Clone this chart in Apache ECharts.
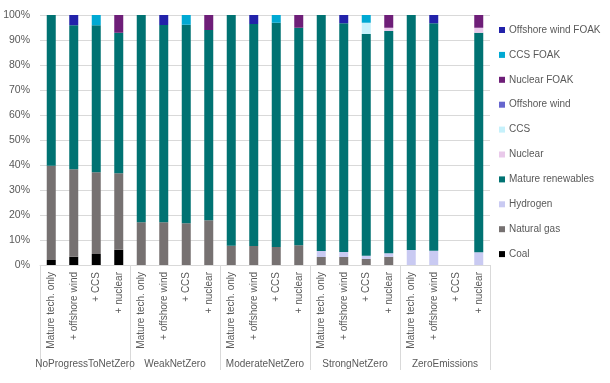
<!DOCTYPE html>
<html>
<head>
<meta charset="utf-8">
<script src="https://cdn.jsdelivr.net/npm/echarts@6/dist/echarts.min.js"></script>
<style>html,body{margin:0;padding:0;background:#fff}#c{width:610px;height:383px}</style>
</head>
<body>
<div id="c"></div>
<script>
const groups = ['NoProgressToNetZero','WeakNetZero','ModerateNetZero','StrongNetZero','ZeroEmissions'];
const variants = ['Mature tech. only','+ offshore wind','+ CCS','+ nuclear'];
const categories = [];
groups.forEach(() => variants.forEach(v => categories.push(v)));
const yTicks = [0,10,20,30,40,50,60,70,80,90,100];

const coal          = [2.0,3.3,4.4,6.1, 0,0,0,0, 0,0,0,0, 0,0,0,0, 0,0,0,0];
const naturalGas    = [37.7,35.0,32.7,30.6, 17.1,17.1,16.7,17.9, 7.7,7.6,7.2,7.9, 3.2,3.2,2.4,3.3, 0,0,0,0];
const hydrogen      = [0,0,0,0, 0,0,0,0, 0,0,0,0, 2.4,2.0,1.3,1.4, 6.0,5.7,0,5.1];
const matureRenew   = [60.3,57.6,58.8,56.2, 82.9,78.9,79.4,76.1, 92.3,88.8,89.7,87.0, 94.4,91.5,88.7,88.9, 94.0,91.0,0,87.8];
const nuclear       = [0,0,0,0, 0,0,0,0, 0,0,0,0, 0,0,0,1.3, 0,0,0,2.0];
const ccs           = [0,0,0,0, 0,0,0,0, 0,0,0,0, 0,0,4.5,0, 0,0,0,0];
const offshoreWind  = [0,0,0,0, 0,0,0,0, 0,0,0,0, 0,0,0,0, 0,0,0,0];
const nuclearFOAK   = [0,0,0,7.1, 0,0,0,6.0, 0,0,0,5.1, 0,0,0,5.1, 0,0,0,5.1];
const ccsFOAK       = [0,0,4.1,0, 0,0,3.9,0, 0,0,3.1,0, 0,0,3.1,0, 0,0,0,0];
const offshoreFOAK  = [0,4.1,0,0, 0,4.0,0,0, 0,3.6,0,0, 0,3.3,0,0, 0,3.3,0,0];

const seriesDefs = [
  ['Coal', coal, '#000000'],
  ['Natural gas', naturalGas, '#767171'],
  ['Hydrogen', hydrogen, '#C9CAF2'],
  ['Mature renewables', matureRenew, '#007272'],
  ['Nuclear', nuclear, '#E9C9EA'],
  ['CCS', ccs, '#C6F1FB'],
  ['Offshore wind', offshoreWind, '#6666CE'],
  ['Nuclear FOAK', nuclearFOAK, '#6E1E78'],
  ['CCS FOAK', ccsFOAK, '#00A9D3'],
  ['Offshore wind FOAK', offshoreFOAK, '#2222AA']
];

const txt = '#595959';
const font = 'Liberation Sans';
const chart = echarts.init(document.getElementById('c'), null, {renderer:'canvas'});
chart.setOption({
  animation: false,
  textStyle: {fontFamily: font},
  grid: {left: 40, right: 120, top: 15, bottom: 118, containLabel: false},
  legend: {
    orient: 'vertical', left: 494, top: 20,
    itemWidth: 6, itemHeight: 6, itemGap: 14.9,
    icon: 'rect',
    data: seriesDefs.map(s => s[0]).reverse(),
    textStyle: {color: txt, fontSize: 10, fontFamily: font, padding: [0,0,0,-1]}
  },
  xAxis: [
    {
      type: 'category', data: categories, position: 'bottom',
      axisLine: {lineStyle: {color: '#D9D9D9'}},
      axisTick: {show: false},
      axisLabel: {rotate: 90, color: txt, fontSize: 10, margin: 7, interval: 0, fontFamily: font}
    },
    {
      type: 'category', data: groups, position: 'bottom',
      axisLine: {show: false},
      axisTick: {show: true, length: 105, lineStyle: {color: '#D9D9D9'}},
      axisLabel: {color: txt, fontSize: 10, margin: 94, interval: 0, fontFamily: font}
    }
  ],
  yAxis: {
    type: 'value', min: yTicks[0], max: yTicks[yTicks.length-1], interval: 10,
    axisLine: {show: false}, axisTick: {show: false},
    splitLine: {lineStyle: {color: '#D9D9D9'}},
    axisLabel: {formatter: '{value}%', color: txt, fontSize: 10.5, margin: 10, fontFamily: font}
  },
  series: seriesDefs.map(([name, data, color]) => ({
    name, type: 'bar', stack: 'total', data, xAxisIndex: 0,
    barWidth: '40%',
    itemStyle: {color}
  }))
});
</script>
</body>
</html>
